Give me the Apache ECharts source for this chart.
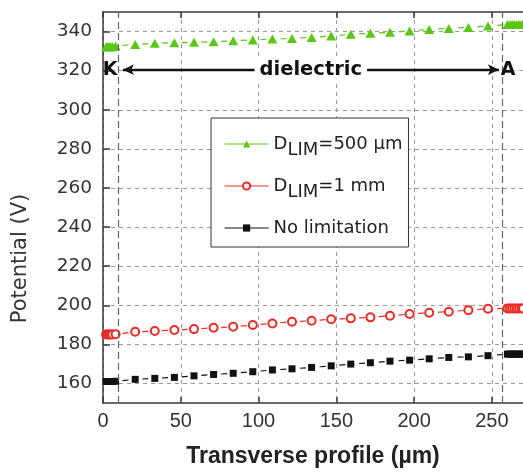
<!DOCTYPE html>
<html>
<head>
<meta charset="utf-8">
<script src="https://cdn.jsdelivr.net/npm/echarts@6/dist/echarts.min.js"></script>
<style>
html,body{margin:0;padding:0;background:#fff;overflow:hidden;}
#c{width:523px;height:476px;}
</style>
</head>
<body>
<div id="c"></div>
<script>
// ---- data ----
const xs = [2,3,4,5,6, 8.1,20.7,33.3,45.9,58.5,71.1,83.7,96.3,108.9,121.5,134.1,146.7,159.3,171.9,184.5,197.1,209.7,222.3,234.9,247.5, 260,261.5,263,264.5,266,267.5,269,270];
const green = [332.2,332.2,332.2,332.2,332.2, 332.6, 333.4,334.0,334.3,334.5,334.8,335.3,335.7,336.2,336.5,337.0,337.7,338.6,339.1,339.6,340.3,341.1,341.6,342.1,342.8, 343.6,343.6,343.6,343.6,343.6,343.6,343.6,343.6];
const red = [185.0,185.0,185.0,185.0,185.0, 185.2, 186.4,186.8,187.3,187.8,188.5,189.0,189.9,190.7,191.6,192.1,192.8,193.3,193.8,194.6,195.5,196.2,196.7,197.5,198.2, 198.4,198.4,198.4,198.4,198.4,198.4,198.4,198.4];
const black = [161.0,161.0,161.0,161.0,161.0, 161.1, 162.1,162.6,163.1,163.9,164.6,165.2,166.0,166.9,167.5,168.2,169.0,169.9,170.6,171.4,171.9,172.6,173.3,173.6,174.2, 175.0,175.0,175.0,175.0,175.0,175.0,175.0,175.0];
const xTicks = [0,50,100,150,200,250];
const yTicks = [160,180,200,220,240,260,280,300,320,340];
const seriesNames = ['D_LIM=500 µm','D_LIM=1 mm','No limitation'];
const legendRich = ['{a|D}{s|LIM}{a|=500 µm}','{a|D}{s|LIM}{a|=1 mm}','{a|No limitation}'];
const boundaries = [9.6, 256.4];          // K and A electrode positions
const arrowX = [12.8, 254.5], arrowY = 320.5;
const electrodeLabels = [{name:'K', x:4.5}, {name:'A', x:260.5}];
const regionLabel = {name:'dielectric', x:133.6};

const pairs = arr => xs.map((x,i)=>[x, arr[i]]);
const dash = {type:[6,13.76], dashOffset:3.26, width:1.2};

const chart = echarts.init(document.getElementById('c'), null, {renderer:'canvas'});
const axisCol = '#3a3a3a';
const annFont = {fontFamily:'DejaVu Sans', fontWeight:'bold', color:'#111'};
chart.setOption({
  animation:false,
  grid:{left:103, top:12, width:423.4, height:391},
  xAxis:[{
    type:'value', min:0, max:270, position:'bottom',
    axisLine:{show:true, lineStyle:{color:axisCol, width:1.5}},
    axisTick:{show:true, inside:true, length:6, customValues:xTicks, lineStyle:{color:axisCol, width:1.5}},
    axisLabel:{customValues:xTicks, margin:8, fontFamily:'Liberation Sans', fontSize:20, color:'#333'},
    splitLine:{show:true, lineStyle:{type:[4,4], color:'#9a9a9a', width:1}},
    name:'Transverse profile (µm)', nameLocation:'middle', nameGap:42,
    nameTextStyle:{fontFamily:'Liberation Sans', fontWeight:'bold', fontSize:23, color:'#222'}
  },{
    type:'value', min:0, max:270, position:'top',
    axisLine:{show:true, lineStyle:{color:axisCol, width:1.5}},
    axisTick:{show:true, inside:true, length:6, customValues:xTicks, lineStyle:{color:axisCol, width:1.5}},
    axisLabel:{show:false}, splitLine:{show:false}
  }],
  yAxis:{
    type:'value', min:150, max:350,
    axisLine:{show:true, lineStyle:{color:axisCol, width:1.5}},
    axisTick:{show:true, inside:true, length:7, customValues:yTicks, lineStyle:{color:axisCol, width:1.5}},
    axisLabel:{customValues:yTicks, margin:11, fontFamily:'DejaVu Sans', fontSize:18.5, color:'#333'},
    splitLine:{show:true, lineStyle:{type:[4,4], color:'#9a9a9a', width:1}},
    name:'Potential (V)', nameLocation:'middle', nameRotate:90, nameGap:72,
    nameTextStyle:{fontFamily:'DejaVu Sans', fontSize:21, color:'#333', padding:[0,102,0,0]}
  },
  legend:{
    data:seriesNames, orient:'vertical', left:211, top:118,
    padding:[11,6,4,13], itemGap:12, itemWidth:44, itemHeight:9,
    backgroundColor:'#fff', borderColor:'#333', borderWidth:1, borderRadius:0,
    selectedMode:false,
    lineStyle:{type:'solid', dashOffset:0, width:1.2},
    formatter: name => legendRich[seriesNames.indexOf(name)],
    textStyle:{fontFamily:'DejaVu Sans', fontSize:18, color:'#222', lineHeight:30,
      rich:{
        a:{fontFamily:'DejaVu Sans', fontSize:18, color:'#222', lineHeight:30},
        s:{fontFamily:'DejaVu Sans', fontSize:18, color:'#222', lineHeight:10, verticalAlign:'bottom'}
      }}
  },
  series:[{
    name:seriesNames[2], type:'line', data:pairs(black),
    symbol:'rect', symbolSize:7, itemStyle:{color:'#111'},
    lineStyle:Object.assign({color:'#111'}, dash), z:3,
    markLine:{silent:true, symbol:['none','none'], label:{show:false},
      lineStyle:{type:[7,4], color:'#666', width:1.2},
      data: boundaries.map(b=>({xAxis:b}))}
  },{
    name:seriesNames[1], type:'line', data:pairs(red),
    symbol:'emptyCircle', symbolSize:8, itemStyle:{color:'#ee2a24', borderWidth:1.3},
    lineStyle:Object.assign({color:'#ee2a24'}, dash), z:3,
    markLine:{silent:true, symbol:['arrow','arrow'], symbolSize:[8,11],
      lineStyle:{type:'solid', color:'#111', width:2.4},
      label:{show:false},
      data:[[{coord:[arrowX[0], arrowY]},{coord:[arrowX[1], arrowY]}]]}
  },{
    name:seriesNames[0], type:'line', data:pairs(green),
    symbol:'triangle', symbolSize:[10,9], itemStyle:{color:'#5cc615'},
    lineStyle:Object.assign({color:'#5cc615'}, dash), z:3,
    markPoint:{silent:true, symbol:'rect', symbolSize:1, itemStyle:{color:'rgba(0,0,0,0)'},
      label:Object.assign({show:true, position:'inside', formatter:'{b}', fontSize:19}, annFont),
      data: electrodeLabels.map(e=>({name:e.name, coord:[e.x, arrowY]})).concat([{
        name:regionLabel.name, coord:[regionLabel.x, arrowY],
        label:Object.assign({show:true, position:'inside', formatter:'{b}', fontSize:19.5,
          backgroundColor:'#fff', padding:[0,5]}, annFont)
      }])}
  }]
});
</script>
</body>
</html>
